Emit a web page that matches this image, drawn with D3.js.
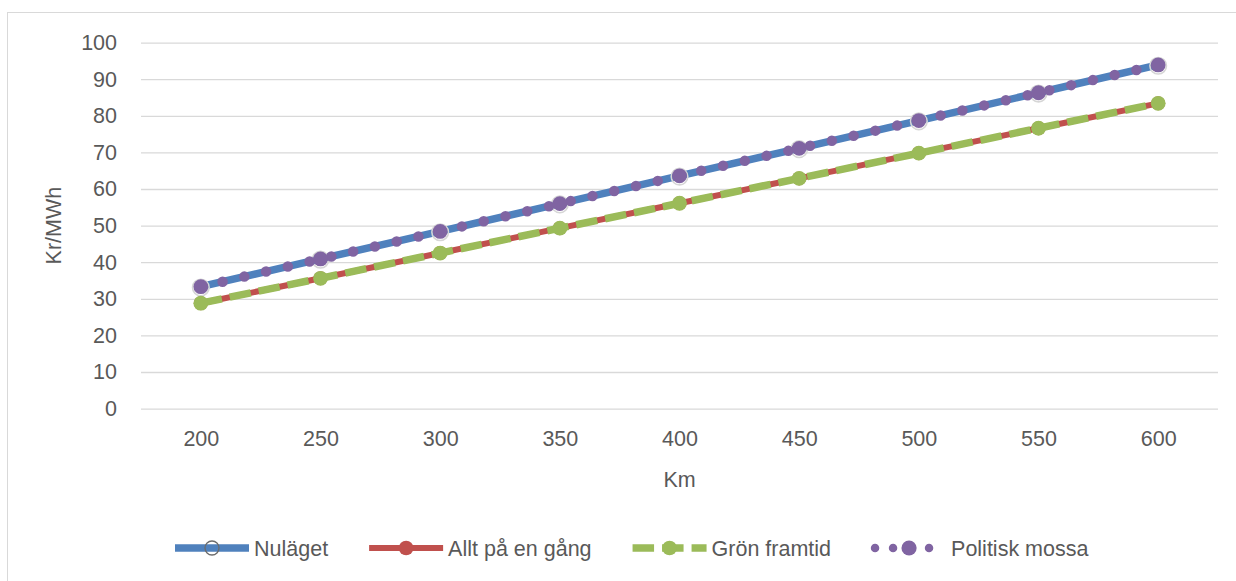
<!DOCTYPE html>
<html>
<head>
<meta charset="utf-8">
<script src="https://cdn.jsdelivr.net/npm/d3@7"></script>
<style>
  html, body { margin: 0; padding: 0; background: #fff; }
  svg { display: block; }
  text { font-family: "Liberation Sans", Arial, sans-serif; fill: #595959; }
</style>
</head>
<body>
<svg id="chart" width="1236" height="581"></svg>
<script>
// Distance (km) on the x axis
const km = [200, 250, 300, 350, 400, 450, 500, 550, 600];

// Cost per scenario, kr/MWh
const nulaget         = [33.3, 40.9, 48.4, 56.0, 63.6, 71.1, 78.7, 86.3, 93.9];
const alltPaEnGang    = [28.8, 35.6, 42.5, 49.3, 56.1, 62.9, 69.8, 76.6, 83.4];
const gronFramtid     = [28.8, 35.6, 42.5, 49.3, 56.1, 62.9, 69.8, 76.6, 83.4];
const politiskMossa   = [33.3, 40.9, 48.4, 56.0, 63.6, 71.1, 78.7, 86.3, 93.9];

const seriesNames = ["Nuläget", "Allt på en gång", "Grön framtid", "Politisk mossa"];
const xTicks = [200, 250, 300, 350, 400, 450, 500, 550, 600];
const yTicks = [0, 10, 20, 30, 40, 50, 60, 70, 80, 90, 100];
const xTitle = "Km";
const yTitle = "Kr/MWh";

const colors = {
  blue: "#4F81BD", red: "#C0504D", green: "#9BBB59", purple: "#8064A2",
  grid: "#D9D9D9"
};
const fontSize = 21.5;

const svg = d3.select("#chart");

// chart frame
svg.append("rect")
  .attr("x", 7.5).attr("y", 12.5)
  .attr("width", 1260).attr("height", 620)
  .attr("fill", "#fff").attr("stroke", colors.grid).attr("stroke-width", 1);

const plot = { left: 141, right: 1218, top: 42.6, bottom: 408.6 };

const x = d3.scaleLinear().domain([175, 625]).range([plot.left, plot.right]);
const y = d3.scaleLinear().domain([0, 100]).range([plot.bottom, plot.top]);

// horizontal gridlines + y labels
const yAxis = d3.axisLeft(y).tickValues(yTicks).tickSize(-(plot.right - plot.left)).tickPadding(24);
const gy = svg.append("g").attr("transform", `translate(${plot.left},0)`).call(yAxis);
gy.select(".domain").remove();
gy.selectAll(".tick line").attr("stroke", colors.grid).attr("stroke-width", 1.3);
gy.selectAll(".tick text").attr("font-size", fontSize).attr("fill", "#595959")
  .style("font-family", '"Liberation Sans", Arial, sans-serif');

// x labels (no axis line of its own; the 0 gridline serves as baseline)
const xAxis = d3.axisBottom(x).tickValues(xTicks).tickSize(0).tickPadding(22);
const gx = svg.append("g").attr("transform", `translate(0,${plot.bottom})`).call(xAxis);
gx.select(".domain").remove();
gx.selectAll(".tick text").attr("font-size", fontSize).attr("fill", "#595959")
  .style("font-family", '"Liberation Sans", Arial, sans-serif');

// axis titles
svg.append("text").attr("x", (plot.left + plot.right) / 2).attr("y", 487)
  .attr("text-anchor", "middle").attr("font-size", fontSize).text(xTitle);
svg.append("text")
  .attr("transform", `translate(61,${(plot.top + plot.bottom) / 2}) rotate(-90)`)
  .attr("text-anchor", "middle").attr("font-size", fontSize).text(yTitle);

const line = d3.line().x((d, i) => x(km[i])).y(d => y(d));
const g = svg.append("g");

// Nuläget: solid blue with hollow markers
g.append("path").datum(nulaget).attr("d", line)
  .attr("fill", "none").attr("stroke", colors.blue).attr("stroke-width", 7.5)
  .attr("stroke-linejoin", "round");
g.selectAll(".m-nul").data(nulaget).join("circle")
  .attr("cx", (d, i) => x(km[i])).attr("cy", d => y(d) + 0.8).attr("r", 8.3)
  .attr("fill", "none").attr("stroke", "#d6d6d6").attr("stroke-width", 1.6);

// Allt på en gång: solid red with round markers
g.append("path").datum(alltPaEnGang).attr("d", line)
  .attr("fill", "none").attr("stroke", colors.red).attr("stroke-width", 6)
  .attr("stroke-linejoin", "round");
g.selectAll(".m-allt").data(alltPaEnGang).join("circle")
  .attr("cx", (d, i) => x(km[i])).attr("cy", d => y(d)).attr("r", 7)
  .attr("fill", colors.red);

// Grön framtid: long-dash green with round markers
g.append("path").datum(gronFramtid).attr("d", line)
  .attr("fill", "none").attr("stroke", colors.green).attr("stroke-width", 7.5)
  .attr("stroke-dasharray", "21.5,8");
g.selectAll(".m-gron").data(gronFramtid).join("circle")
  .attr("cx", (d, i) => x(km[i])).attr("cy", d => y(d)).attr("r", 7.4)
  .attr("fill", colors.green);

// Politisk mossa: round-dot purple line with large markers
const pm = g.append("path").datum(politiskMossa).attr("d", line)
  .attr("fill", "none").attr("stroke", colors.purple).attr("stroke-width", 10.5)
  .attr("stroke-linecap", "round");
const pmLen = pm.node().getTotalLength();
pm.attr("stroke-dasharray", `0,${pmLen / 44}`);
g.selectAll(".m-pm").data(politiskMossa).join("circle")
  .attr("cx", (d, i) => x(km[i])).attr("cy", d => y(d)).attr("r", 7.4)
  .attr("fill", colors.purple);

// legend
const legY = 548;
const leg = svg.append("g");
let cx = 175;
const symLen = 74;
seriesNames.forEach((name, k) => {
  const item = leg.append("g");
  const x0 = cx, x1 = cx + symLen, mid = (x0 + x1) / 2;
  if (k === 0) {
    item.append("line").attr("x1", x0).attr("x2", x1).attr("y1", legY).attr("y2", legY)
      .attr("stroke", colors.blue).attr("stroke-width", 7.5);
    item.append("circle").attr("cx", mid).attr("cy", legY).attr("r", 7)
      .attr("fill", "none").attr("stroke", "#6b6b6b").attr("stroke-width", 1.3);
  } else if (k === 1) {
    item.append("line").attr("x1", x0).attr("x2", x1).attr("y1", legY).attr("y2", legY)
      .attr("stroke", colors.red).attr("stroke-width", 6);
    item.append("circle").attr("cx", mid).attr("cy", legY).attr("r", 7.3).attr("fill", colors.red);
  } else if (k === 2) {
    item.append("line").attr("x1", x0).attr("x2", x1).attr("y1", legY).attr("y2", legY)
      .attr("stroke", colors.green).attr("stroke-width", 7.5).attr("stroke-dasharray", "21.5,8");
    item.append("circle").attr("cx", mid).attr("cy", legY).attr("r", 7.3).attr("fill", colors.green);
  } else {
    item.append("line").attr("x1", x0 + 3).attr("x2", x1).attr("y1", legY).attr("y2", legY)
      .attr("stroke", colors.purple).attr("stroke-width", 8.5).attr("stroke-linecap", "round")
      .attr("stroke-dasharray", "0,18");
    item.append("circle").attr("cx", mid).attr("cy", legY).attr("r", 7.6).attr("fill", colors.purple);
  }
  const t = item.append("text").attr("x", x1 + 5).attr("y", legY + 7.5)
    .attr("font-size", fontSize).text(name);
  cx = x1 + 5 + t.node().getComputedTextLength() + 41;
});
</script>
</body>
</html>
